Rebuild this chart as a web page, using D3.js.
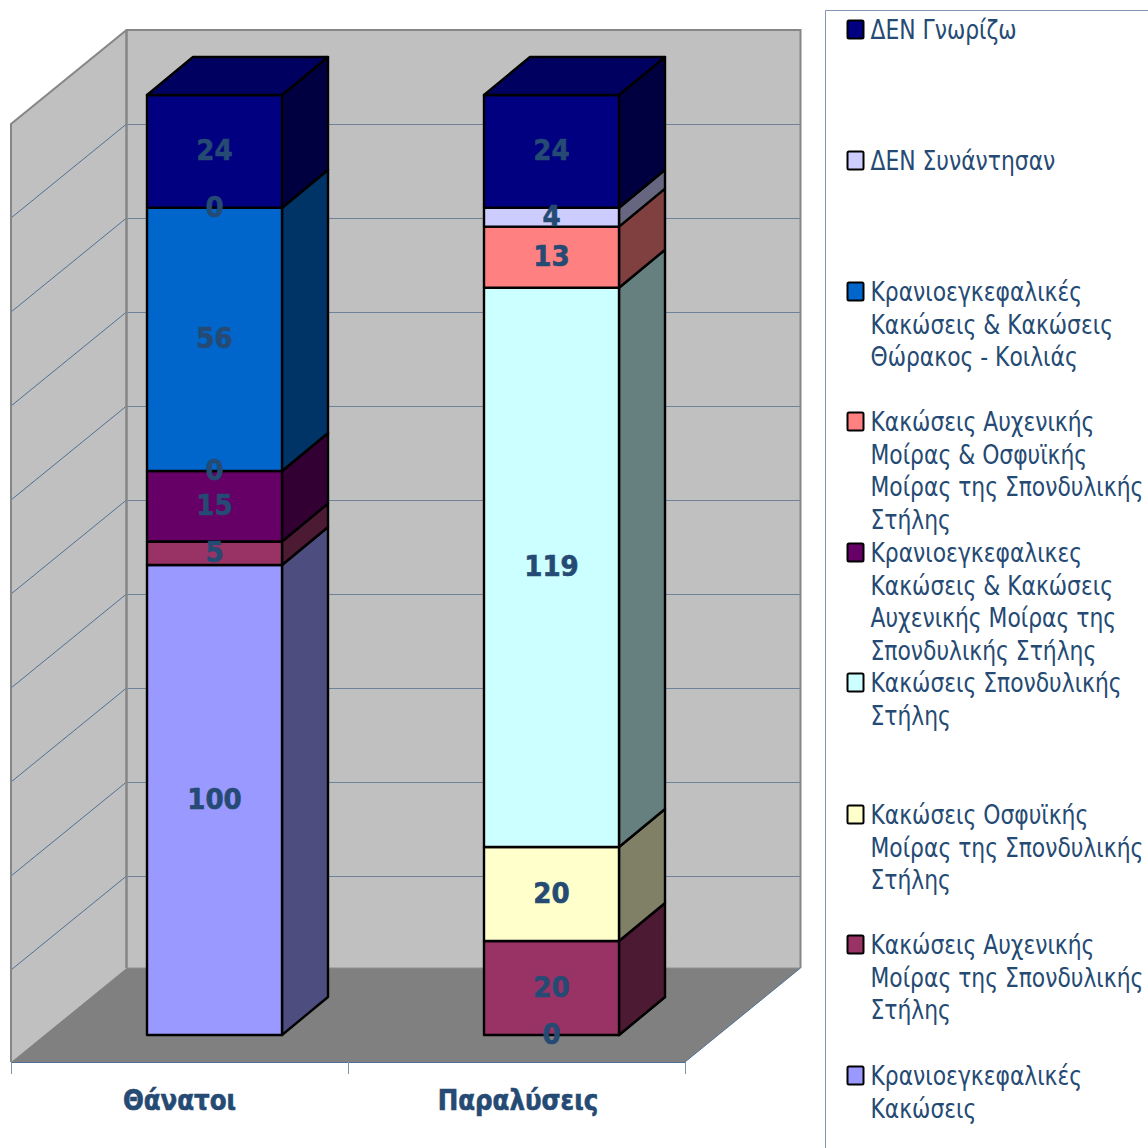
<!DOCTYPE html>
<html><head><meta charset="utf-8">
<script src="https://cdn.jsdelivr.net/npm/d3@7"></script>
<style>html,body{margin:0;padding:0;background:#fff;overflow:hidden}svg{display:block}
text{font-family:"DejaVu Sans Condensed","DejaVu Sans",sans-serif}</style></head>
<body><svg id="c" width="1148" height="1148"></svg>
<script>
const categories = ["Θάνατοι", "Παραλύσεις"];
const seriesNames = ["Κρανιοεγκεφαλικές Κακώσεις","Κακώσεις Αυχενικής Μοίρας της Σπονδυλικής Στήλης","Κακώσεις Οσφυϊκής Μοίρας της Σπονδυλικής Στήλης","Κακώσεις Σπονδυλικής Στήλης","Κρανιοεγκεφαλικες Κακώσεις & Κακώσεις Αυχενικής Μοίρας της Σπονδυλικής Στήλης","Κακώσεις Αυχενικής Μοίρας & Οσφυϊκής Μοίρας της Σπονδυλικής Στήλης","Κρανιοεγκεφαλικές Κακώσεις & Κακώσεις Θώρακος - Κοιλιάς","ΔΕΝ Συνάντησαν","ΔΕΝ Γνωρίζω"];
const thanatoi = [100, 5, null, null, 15, 0, 56, 0, 24];
const paralyseis = [0, 20, 20, 119, null, 13, null, 4, 24];
const seriesColors = ["#9999FF","#993366","#FFFFCC","#CCFFFF","#660066","#FF8080","#0066CC","#CCCCFF","#000080"];
const legendLines = [
 ["Κρανιοεγκεφαλικές","Κακώσεις"],
 ["Κακώσεις Αυχενικής","Μοίρας της Σπονδυλικής","Στήλης"],
 ["Κακώσεις Οσφυϊκής","Μοίρας της Σπονδυλικής","Στήλης"],
 ["Κακώσεις Σπονδυλικής","Στήλης"],
 ["Κρανιοεγκεφαλικες","Κακώσεις & Κακώσεις","Αυχενικής Μοίρας της","Σπονδυλικής Στήλης"],
 ["Κακώσεις Αυχενικής","Μοίρας & Οσφυϊκής","Μοίρας της Σπονδυλικής","Στήλης"],
 ["Κρανιοεγκεφαλικές","Κακώσεις & Κακώσεις","Θώρακος - Κοιλιάς"],
 ["ΔΕΝ Συνάντησαν"],
 ["ΔΕΝ Γνωρίζω"]];
const axisMax = 200, gridStep = 20;

const W = {l:11, r:685, front:1062, backDx:115.5, backDy:94, top:124};
const bar = {inset:136, width:135, base:1035, top:95, dx:46, dy:38};
const textColor = "#254A73", lineColor = "#4F7096";

const svg = d3.select("#c");
const yBack = d3.scaleLinear().domain([0,axisMax]).range([W.front-W.backDy, 30]);
const yGrid = d3.scaleLinear().domain([0,axisMax]).range([970, 30]);
const yBar = d3.scaleLinear().domain([0,axisMax]).range([bar.base, bar.top]);
const x = d3.scaleBand().domain(categories).range([W.l,W.r]);
const pts = a => a.map(p=>p.join(",")).join(" ");

const bx0 = W.l+W.backDx, bx1 = W.r+W.backDx, by0 = yBack(0), by1 = yBack(axisMax);
// walls
svg.append("polygon").attr("points",pts([[W.l,W.top],[bx0,by1],[bx0,by0],[W.l,W.front]])).attr("fill","#C0C0C0");
svg.append("rect").attr("x",bx0).attr("y",by1).attr("width",bx1-bx0).attr("height",by0-by1).attr("fill","#C0C0C0");
svg.append("polygon").attr("points",pts([[W.l,W.front],[bx0,by0],[bx1,by0],[W.r,W.front]])).attr("fill","#808080");
// gridlines
const gridVals = d3.range(gridStep, axisMax, gridStep);
const g = svg.append("g");
g.selectAll(".gb").data(gridVals).join("line").attr("x1",bx0).attr("x2",bx1)
 .attr("y1",d=>yGrid(d)+.5).attr("y2",d=>yGrid(d)+.5).attr("stroke","#6F8299").attr("stroke-width",1);
g.selectAll(".gl").data(gridVals).join("line").attr("x1",bx0).attr("x2",W.l)
 .attr("y1",d=>yGrid(d)).attr("y2",d=>yGrid(d)+W.backDy).attr("stroke",lineColor).attr("stroke-width",1);
// wall borders
const bd = "#868686";
svg.append("polyline").attr("points",pts([[W.l,W.front],[W.l,W.top],[bx0,by1],[bx1,by1],[bx1,by0]])).attr("fill","none").attr("stroke",bd).attr("stroke-width",2);
svg.append("line").attr("x1",bx0).attr("x2",bx0).attr("y1",by1).attr("y2",by0).attr("stroke",bd).attr("stroke-width",2.5);
svg.append("line").attr("x1",bx0).attr("x2",bx1).attr("y1",by0).attr("y2",by0).attr("stroke","#8e8e8e").attr("stroke-width",1);
// axis
const ax = svg.append("g").attr("stroke",lineColor).attr("stroke-width",1);
ax.append("line").attr("x1",W.l).attr("x2",W.r).attr("y1",W.front+.5).attr("y2",W.front+.5);
ax.append("line").attr("x1",W.r).attr("x2",bx1).attr("y1",W.front).attr("y2",by0);
[W.l, x(categories[1]), W.r].forEach(v=>ax.append("line").attr("x1",Math.round(v)+.5).attr("x2",Math.round(v)+.5).attr("y1",W.front).attr("y2",W.front+12).attr("stroke","#7F93AB"));
svg.selectAll(".cat").data(categories).join("text")
 .attr("transform",d=>`translate(${x(d)+x.bandwidth()/2+(d===categories[1]?1.5:0)},1110) scale(0.94,1)`)
 .attr("text-anchor","middle").attr("font-size",29).attr("font-weight","bold").attr("fill",textColor)
 .attr("stroke",textColor).attr("stroke-width",0.6).text(d=>d);

// stacked bars
const values = [thanatoi, paralyseis];
const rows = categories.map((c,i)=>{const r={cat:c}; seriesNames.forEach((s,j)=>r[s]=values[i][j]||0); return r;});
const stack = d3.stack().keys(seriesNames)(rows);
const labels = [];
stack.forEach((layer,j)=>{
  const col = d3.color(seriesColors[j]);
  const dark = d3.rgb(col.r*.5,col.g*.5,col.b*.5);
  const mid = d3.rgb(col.r*.75,col.g*.75,col.b*.75);
  layer.forEach((d,i)=>{
    const raw = values[i][j];
    const X0 = x(categories[i])+bar.inset, X1 = X0+bar.width;
    const y0 = yBar(d[0]), y1 = yBar(d[1]);
    if(raw===null) return;
    const gg = svg.append("g").attr("class","seg").attr("stroke","#000").attr("stroke-width",2.4).attr("stroke-linejoin","round");
    gg.append("polygon").attr("points",pts([[X1,y0],[X1,y1],[X1+bar.dx,y1-bar.dy],[X1+bar.dx,y0-bar.dy]])).attr("fill",dark);
    gg.append("rect").attr("x",X0).attr("y",y1).attr("width",bar.width).attr("height",y0-y1).attr("fill",col);
    if(d[1]===axisMax) gg.append("polygon").attr("points",pts([[X0,y1],[X1,y1],[X1+bar.dx,y1-bar.dy],[X0+bar.dx,y1-bar.dy]])).attr("fill",mid);
    labels.push({x:(X0+X1)/2, y:(y0+y1)/2, v:raw});
  });
});
svg.selectAll(".lab").data(labels).join("text").attr("x",d=>d.x).attr("y",d=>d.y-1.5).attr("dy","0.36em")
 .attr("text-anchor","middle").attr("font-size",29).attr("font-weight","bold").attr("fill",textColor)
 .attr("stroke",textColor).attr("stroke-width",0.6).text(d=>d.v);

// legend
svg.append("polyline").attr("points",pts([[825.5,1148],[825.5,10.5],[1148,10.5]])).attr("fill","none").attr("stroke","#7F96B2").attr("stroke-width",1);
const legendTop = [1076,945,815,683,553,422,292,161,30];
const lh = 32.7;
seriesNames.forEach((s,j)=>{
  const yy = legendTop[j];
  svg.append("rect").attr("x",847.5).attr("y",yy-9.5).attr("width",16).attr("height",18).attr("rx",1.5).attr("fill",seriesColors[j]).attr("stroke","#000").attr("stroke-width",2);
  legendLines[j].forEach((ln,k)=>svg.append("text").attr("fill",textColor).attr("font-size",27)
    .attr("transform",`translate(870.5,${yy+9+k*lh}) scale(0.9,1)`).text(ln));
});
</script></body></html>
